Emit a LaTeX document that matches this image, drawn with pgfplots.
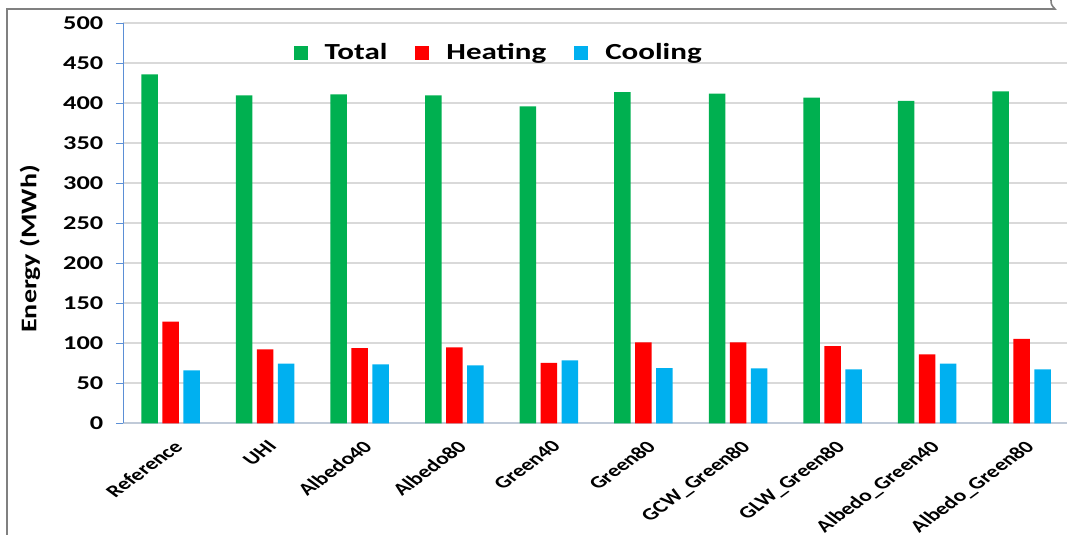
\documentclass[border=0pt]{standalone}
\usepackage{pgfplots}
\pgfplotsset{compat=1.18}
\usepackage{fontspec}
\setmainfont{Carlito}
\newfontfamily\tickfont[FakeStretch=1.35]{Carlito}
\newfontfamily\labfont[FakeStretch=1.25]{Carlito}
\definecolor{cTotal}{HTML}{00B050}
\definecolor{cHeat}{HTML}{FF0000}
\definecolor{cCool}{HTML}{00B0F0}
\definecolor{gridc}{HTML}{D9D9D9}
\definecolor{yaxc}{HTML}{5B8FD6}
\definecolor{framec}{HTML}{808080}
\begin{document}
\begin{tikzpicture}
\begin{axis}[
  scale only axis, width=472.85pt, height=200pt,
  ybar, bar width=8.25pt,
  xmin=-0.5, xmax=9.5, ymin=0, ymax=500,
  enlargelimits=false,
  xtick={0,...,9},
  xticklabels={Reference,UHI,Albedo40,Albedo80,Green40,Green80,GCW\_Green80,GLW\_Green80,Albedo\_Green40,Albedo\_Green80},
  ytick={0,50,...,500},
  axis x line*=bottom, axis y line*=left,
  axis line style={-},
  x axis line style={draw=gridc!80!yaxc, line width=0.8pt},
  y axis line style={draw=yaxc, line width=0.6pt},
  xtick style={draw=none},
  ytick style={draw=yaxc, line width=0.6pt},
  tick align=outside, major tick length=3.5pt,
  ymajorgrids, major grid style={draw=gridc, line width=0.9pt},
  /pgf/number format/assume math mode=true,
  yticklabel style={font=\tickfont\bfseries\fontsize{9.75}{10}\selectfont, anchor=east, xshift=-3pt},
  xticklabel style={font=\bfseries\fontsize{8.6}{9}\selectfont, inner sep=0pt, xscale=1.36, rotate=45, anchor=north east, xshift=1pt},
  xticklabel shift=5pt,
  ylabel={Energy (MWh)},
  ylabel style={font=\labfont\bfseries\fontsize{11.2}{12}\selectfont, at={(axis description cs:-0.0987,0.436)}, anchor=center},
  legend columns=3,
  legend style={at={(axis description cs:0.398,0.926)}, anchor=center, draw=none, fill=none,
    font=\tickfont\bfseries\fontsize{11.5}{12}\selectfont,
    /tikz/every odd column/.append style={column sep=6.5pt},
    /tikz/every even column/.append style={column sep=12pt}},
  legend image code/.code={\fill[#1, draw=none] (0pt,-3.5pt) rectangle (7pt,3.5pt);},
]
\addplot[fill=cTotal, draw=none, bar shift=-10.5pt] coordinates {
  (0,436) (1,410) (2,411) (3,410) (4,396) (5,414) (6,412) (7,407) (8,403) (9,415)};
\addplot[fill=cHeat, draw=none, bar shift=0pt] coordinates {
  (0,127) (1,92.5) (2,94) (3,95) (4,75.5) (5,101) (6,101) (7,96.5) (8,86) (9,105.5)};
\addplot[fill=cCool, draw=none, bar shift=10.5pt] coordinates {
  (0,66) (1,74.5) (2,73.5) (3,72.5) (4,78.5) (5,69) (6,68.5) (7,67.5) (8,74.5) (9,67.5)};
\legend{Total,Heating,Cooling}
\end{axis}
\draw[framec, line width=0.8pt] (-58.15pt,-56pt) -- (-58.15pt,207.15pt) -- (465.85pt,207.15pt) .. controls (464pt,209pt) and (463.5pt,210.5pt) .. (463.8pt,212pt);
\pgfresetboundingbox
\useasboundingbox (-61.65pt,-55.85pt) rectangle (471.85pt,211.65pt);
\end{tikzpicture}
\end{document}
